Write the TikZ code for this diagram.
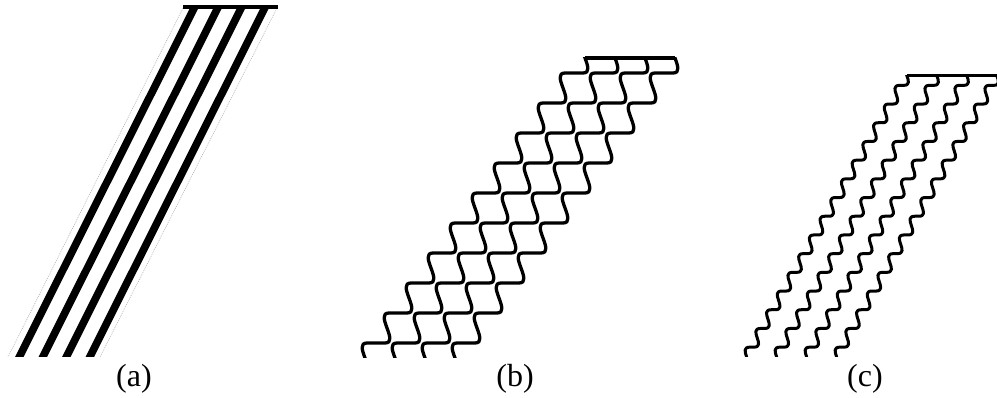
\documentclass[tikz,border=0pt]{standalone}
\usepackage{fontspec}
\setmainfont{Liberation Serif}
\begin{document}
\begin{tikzpicture}[x=1pt,y=-1pt,
  stripe/.style={fill=black},
  guide/.style={draw=gray!60, line width=0.6pt, dash pattern=on 1pt off 1pt},
  topbar/.style={line width=4pt},
  bbar/.style={line width=3.3pt},
  cbar/.style={line width=3pt},
  wave/.style={line width=3.3pt, line join=round, line cap=round},
  fine/.style={line width=3pt, line join=round, line cap=round},
  lab/.style={font=\fontsize{32}{38}\selectfont, inner sep=0pt, anchor=base}]
\useasboundingbox (0,0) rectangle (997,398);
% ---------- (a) ----------
\foreach \i in {0,...,3}{
  \fill[stripe] (189.5+23.5*\i,9) -- (198+23.5*\i,9) -- (23.5+23.5*\i,357) -- (15+23.5*\i,357) -- cycle;
}
\draw[guide] (183,8) -- (8,357);
\draw[guide] (277,8) -- (100,357);
\draw[topbar] (183,7) -- (278,7);
% ---------- (b) ----------
\begin{scope}
\clip (340,58) rectangle (720,358);
\foreach \i in {0,...,3}{
  \draw[wave] (605+30*\i,43) \foreach \k [evaluate=\k as \xa using 605+30*\i-22*\k, evaluate=\k as \ya using 43+30*\k] in {0,...,11}{ -- (\xa-18,\ya) .. controls (\xa-33,\ya) and (\xa-7,\ya+30) .. (\xa-22,\ya+30) };
}
\end{scope}
\draw[bbar] (585,58) -- (675,58);
% ---------- (c) ----------
\begin{scope}
\clip (700,76) rectangle (997,357);
\foreach \i in {0,...,3}{
  \draw[fine] (914.35+30*\i,66.65) \foreach \k [evaluate=\k as \xa using 914.35+30*\i-10.7*\k, evaluate=\k as \ya using 66.65+18.7*\k] in {0,...,16}{ -- (\xa-4,\ya) .. controls (\xa-17,\ya) and (\xa+2.3,\ya+18.7) .. (\xa-10.7,\ya+18.7) };
}
\end{scope}
\draw[cbar] (907,76) -- (997,76);
% ---------- labels ----------
\node[lab] (la) at (134,387) {(a)};
\node[lab] (lb) at (515,387) {(b)};
\node[lab] (lc) at (865,387) {(c)};
\end{tikzpicture}
\end{document}
